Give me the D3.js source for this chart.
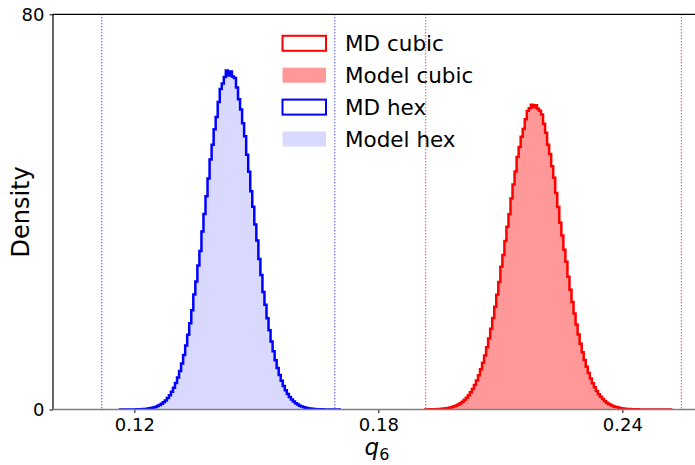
<!DOCTYPE html>
<html><head><meta charset="utf-8">
<script src="https://cdn.jsdelivr.net/npm/d3@7"></script>
<style>
html,body{margin:0;padding:0;background:#fff;}
svg text{font-family:"DejaVu Sans",sans-serif;fill:#000;}
</style></head>
<body>
<svg id="chart" width="695" height="465"></svg>
<script>
// ---- data ----
const binWidth = 0.0005;
const hexStart = 0.1165;
const cubicStart = 0.1915;

const mdHex = [0.002,0.003,0.004,0.006,0.009,0.012,0.017,0.025,0.035,0.048,
0.067,0.092,0.125,0.17,0.23,0.30,0.40,0.53,0.69,0.89,
1.15,1.46,1.84,2.32,2.90,3.58,4.40,5.36,6.50,7.81,
9.31,11.01,12.94,15.11,17.48,20.09,23.3,25.92,29.17,32.1,
36.01,39.56,43.15,46.76,50.6,53.59,56.73,59.2,62.23,64.9,
66.0,67.3,68.6,67.6,68.4,67.4,67.1,65.20,62.8,60.72,
57.94,55.3,51.59,48.15,44.2,41.02,37.45,34.2,30.48,27.21,
23.8,21.21,18.49,16.03,13.79,11.77,9.96,8.38,7.00,5.80,
4.77,3.89,3.15,2.54,2.03,1.61,1.26,0.99,0.76,0.59,
0.45,0.34,0.26,0.19,0.14,0.10,0.076,0.055,0.040,0.028,
0.020,0.014,0.010,0.007,0.005,0.003,0.002,0.001];

const modelHex = [0.002,0.003,0.004,0.006,0.009,0.012,0.017,0.025,0.035,0.048,
0.067,0.092,0.125,0.17,0.23,0.30,0.40,0.53,0.69,0.89,
1.15,1.46,1.84,2.32,2.90,3.58,4.40,5.36,6.50,7.81,
9.31,11.01,12.94,15.11,17.48,20.09,22.90,25.92,29.17,32.54,
36.01,39.56,43.15,46.76,50.24,53.59,56.73,59.63,62.23,64.44,
66.23,67.27,68.14,68.40,68.34,67.68,66.83,65.20,63.15,60.72,
57.94,54.90,51.59,48.15,44.60,41.02,37.45,33.89,30.48,27.21,
24.11,21.21,18.49,16.03,13.79,11.77,9.96,8.38,7.00,5.80,
4.77,3.89,3.15,2.54,2.03,1.61,1.26,0.99,0.76,0.59,
0.45,0.34,0.26,0.19,0.14,0.10,0.076,0.055,0.040,0.028,
0.020,0.014,0.010,0.007,0.005,0.003,0.002,0.001];

const mdCubic = [0.014,0.020,0.027,0.036,0.048,0.064,0.085,0.11,0.15,0.19,
0.25,0.32,0.41,0.52,0.66,0.83,1.03,1.28,1.58,1.95,
2.37,2.88,3.47,4.17,4.97,5.89,6.94,8.13,9.46,10.95,
12.61,14.39,16.37,18.51,20.79,23.23,25.81,28.9,31.27,34.11,
36.99,39.5,42.72,45.53,48.16,51.1,53.12,55.23,56.8,58.76,
60.4,61.0,61.7,61.2,61.6,60.9,60.48,59.7,57.83,56.04,
53.6,51.71,49.22,46.9,43.83,40.99,37.8,35.22,32.36,29.9,
26.86,24.25,21.76,19.41,17.21,15.17,13.29,11.58,10.03,8.63,
7.38,6.28,5.31,4.48,3.74,3.11,2.57,2.11,1.72,1.39,
1.13,0.90,0.72,0.57,0.45,0.35,0.27,0.21,0.16,0.12,
0.095,0.072,0.054,0.040,0.030,0.022,0.016,0.012,0.0085,0.006,
0.0044,0.003,0.002,0.002,0.0015,0.001,0.001,0.001,0.0008,0.0005,
0.0005];

const modelCubic = [0.014,0.020,0.027,0.036,0.048,0.064,0.085,0.11,0.15,0.19,
0.25,0.32,0.41,0.52,0.66,0.83,1.03,1.28,1.58,1.95,
2.37,2.88,3.47,4.17,4.97,5.89,6.94,8.13,9.46,10.95,
12.61,14.39,16.37,18.51,20.79,23.23,25.81,28.49,31.27,34.11,
36.99,39.86,42.72,45.53,48.16,50.73,53.12,55.23,57.14,58.76,
60.07,60.92,61.44,61.60,61.48,61.10,60.48,59.32,57.83,56.04,
53.98,51.71,49.22,46.59,43.83,40.99,38.11,35.22,32.36,29.55,
26.86,24.25,21.76,19.41,17.21,15.17,13.29,11.58,10.03,8.63,
7.38,6.28,5.31,4.48,3.74,3.11,2.57,2.11,1.72,1.39,
1.13,0.90,0.72,0.57,0.45,0.35,0.27,0.21,0.16,0.12,
0.095,0.072,0.054,0.040,0.030,0.022,0.016,0.012,0.0085,0.006,
0.0044,0.003,0.002,0.002,0.0015,0.001,0.001,0.001,0.0008,0.0005,
0.0005];

const hexBounds = [0.1120, 0.1693];
const cubicBounds = [0.19165, 0.2545];

const xTicks = [0.12, 0.18, 0.24];
const yTicks = [0, 80];
const legendLabels = ["MD cubic", "Model cubic", "MD hex", "Model hex"];

// ---- layout ----
const svg = d3.select("#chart");
const pLeft = 53, pTop = 14.3, pBottom = 409.5;
const x = d3.scaleLinear().domain([0.1, 0.26]).range([pLeft, pLeft + 0.16 * 4066.7]);
const y = d3.scaleLinear().domain([0, 80]).range([pBottom, pTop]);

svg.append("defs").append("clipPath").attr("id", "clip")
  .append("rect").attr("x", pLeft).attr("y", pTop).attr("width", 700).attr("height", pBottom - pTop);

const plot = svg.append("g").attr("clip-path", "url(#clip)");

function stepPoints(start, vals) {
  const pts = [[start, 0]];
  vals.forEach((v, i) => {
    pts.push([start + i * binWidth, v]);
    pts.push([start + (i + 1) * binWidth, v]);
  });
  pts.push([start + vals.length * binWidth, 0]);
  return pts;
}
const line = d3.line().x(d => x(d[0])).y(d => y(d[1]));
const area = d3.area().x(d => x(d[0])).y0(y(0)).y1(d => y(d[1]));

// dotted bounds
hexBounds.forEach(b => plot.append("line").attr("x1", x(b)).attr("x2", x(b))
  .attr("y1", pTop).attr("y2", pBottom).attr("stroke", "#0000ff").attr("stroke-width", 1)
  .attr("stroke-dasharray", "1,2"));
cubicBounds.forEach(b => plot.append("line").attr("x1", x(b)).attr("x2", x(b))
  .attr("y1", pTop).attr("y2", pBottom).attr("stroke", "#e00000").attr("stroke-width", 1)
  .attr("stroke-dasharray", "1,2"));

// fills
plot.append("path").datum(stepPoints(cubicStart, modelCubic)).attr("d", area)
  .attr("fill", "#ff9999");
plot.append("path").datum(stepPoints(hexStart, modelHex)).attr("d", area)
  .attr("fill", "#d9d9ff");
// outlines
plot.append("path").datum(stepPoints(cubicStart, mdCubic)).attr("d", line)
  .attr("fill", "none").attr("stroke", "#ff0000").attr("stroke-width", 2.5).attr("stroke-linejoin", "miter");
plot.append("path").datum(stepPoints(hexStart, mdHex)).attr("d", line)
  .attr("fill", "none").attr("stroke", "#0000ff").attr("stroke-width", 2.5).attr("stroke-linejoin", "miter");

// axes
const xAxis = d3.axisBottom(x).tickValues(xTicks).tickFormat(d3.format(".2f")).tickSize(3.5).tickPadding(5);
const gx = svg.append("g").attr("transform", `translate(0,${pBottom})`).call(xAxis);
gx.select(".domain").remove();
gx.selectAll(".tick line").attr("stroke", "#000").attr("stroke-width", 1);
gx.selectAll(".tick text").attr("font-size", 18).attr("font-family", "DejaVu Sans");

const yAxis = d3.axisLeft(y).tickValues(yTicks).tickFormat(d3.format("d")).tickSize(3.5).tickPadding(5);
const gy = svg.append("g").attr("transform", `translate(${pLeft},0)`).call(yAxis);
gy.select(".domain").remove();
gy.selectAll(".tick line").attr("stroke", "#000").attr("stroke-width", 1);
gy.selectAll(".tick text").attr("font-size", 18).attr("font-family", "DejaVu Sans");

// spines
svg.append("line").attr("x1", pLeft).attr("x2", pLeft).attr("y1", pTop).attr("y2", pBottom)
  .attr("stroke", "#000").attr("stroke-width", 1.2);
svg.append("line").attr("x1", pLeft).attr("x2", 700).attr("y1", pTop).attr("y2", pTop)
  .attr("stroke", "#000").attr("stroke-width", 1.2);
svg.append("line").attr("x1", pLeft).attr("x2", 700).attr("y1", pBottom).attr("y2", pBottom)
  .attr("stroke", "#808080").attr("stroke-width", 1.5);

// labels
const xl = svg.append("text").attr("x", 377).attr("y", 455).attr("text-anchor", "middle").attr("font-size", 23);
xl.append("tspan").attr("font-style", "italic").text("q");
xl.append("tspan").attr("font-size", 16).attr("dy", 5).text("6");

svg.append("text").attr("transform", `translate(28.5,${(pTop + pBottom) / 2}) rotate(-90)`)
  .attr("text-anchor", "middle").attr("font-size", 24).text("Density");

// legend
const legendStyles = [
  {fill: "#fff", stroke: "#ff0000"},
  {fill: "#ff9999", stroke: "none"},
  {fill: "#fff", stroke: "#0000ff"},
  {fill: "#d9d9ff", stroke: "none"}
];
const lg = svg.append("g");
legendLabels.forEach((lab, i) => {
  const cy = 43.3 + i * 31.9;
  const st = legendStyles[i];
  lg.append("rect").attr("x", 282.5).attr("y", cy - 7.5).attr("width", 43.5).attr("height", 15)
    .attr("fill", st.fill).attr("stroke", st.stroke).attr("stroke-width", st.stroke === "none" ? 0 : 2);
  lg.append("text").attr("x", 345).attr("y", cy + 7.8).attr("font-size", 21.5).text(lab);
});
</script>
</body></html>
